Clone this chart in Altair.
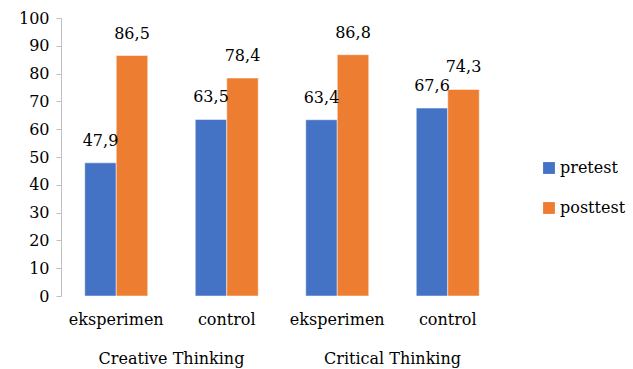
import altair as alt
import pandas as pd

groups = ["Creative Thinking", "Creative Thinking", "Critical Thinking", "Critical Thinking"]
classes = ["eksperimen", "control", "eksperimen", "control"]
pretest = [47.9, 63.5, 63.4, 67.6]
posttest = [86.5, 78.4, 86.8, 74.3]
series = ["pretest", "posttest"]
colors = ["#4472C4", "#ED7D31"]
group_names = ["Creative Thinking", "Critical Thinking"]

rows = []
for i in range(4):
    key = f"{i}|{classes[i]}"
    rows.append({"key": key, "cls": classes[i], "group": groups[i], "series": "pretest", "value": pretest[i]})
    rows.append({"key": key, "cls": classes[i], "group": groups[i], "series": "posttest", "value": posttest[i]})
df = pd.DataFrame(rows)
gdf = pd.DataFrame({"group": group_names})

FONT = "DejaVu Serif"
W, H = 442, 278

base = alt.Chart(df).transform_calculate(
    label="replace(format(datum.value, '.1f'), '.', ',')",
)

x = alt.X("key:N", sort=None, title=None,
          scale=alt.Scale(paddingInner=0.43, paddingOuter=0.215),
          axis=alt.Axis(labelExpr="split(datum.label, '|')[1]", domain=False, ticks=False,
                        labelAngle=0, labelFont=FONT, labelFontSize=16, labelColor="#000000",
                        labelPadding=15))
y = alt.Y("value:Q", title=None,
          scale=alt.Scale(domain=[0, 100], nice=False),
          axis=alt.Axis(values=list(range(0, 101, 10)), grid=False, domainColor="#BFBFBF",
                        tickColor="#BFBFBF", tickSize=5, labelFont=FONT, labelFontSize=16,
                        labelColor="#000000", labelPadding=7))
xo = alt.XOffset("series:N", sort=series, scale=alt.Scale(paddingInner=0, paddingOuter=0))
color = alt.Color("series:N", sort=series, title=None,
                  scale=alt.Scale(domain=series, range=colors),
                  legend=alt.Legend(orient="none", legendX=480, legendY=142, symbolType="square",
                                    symbolSize=140, symbolStrokeWidth=0, labelFont=FONT,
                                    labelFontSize=16, labelColor="#000000", rowPadding=24,
                                    symbolOpacity=1, labelOffset=3))

bars = base.mark_bar(stroke="white", strokeWidth=0.5).encode(x=x, y=y, xOffset=xo, color=color)
texts = base.mark_text(dy=-14, baseline="bottom", font=FONT, fontSize=16, color="#000000").encode(
    x=x, y=y, xOffset=xo, text="label:N")
main = alt.layer(bars, texts)

glabels = alt.Chart(gdf).mark_text(font=FONT, fontSize=16, color="#000000", baseline="middle").encode(
    x=alt.X("group:N", sort=group_names, scale=alt.Scale(paddingInner=0, paddingOuter=0), axis=None),
    y=alt.value(341),
    text="group:N",
)

chart = alt.layer(main, glabels).resolve_scale(x="independent").properties(
    width=W, height=H,
    background="white",
    autosize=alt.AutoSizeParams(type="none"),
    padding={"left": 61, "top": 18, "right": 633 - 61 - W, "bottom": 369 - 18 - H},
).configure_view(strokeWidth=0, stroke="transparent")

chart.save("out.html", embed_options={"renderer": "svg", "actions": False})
